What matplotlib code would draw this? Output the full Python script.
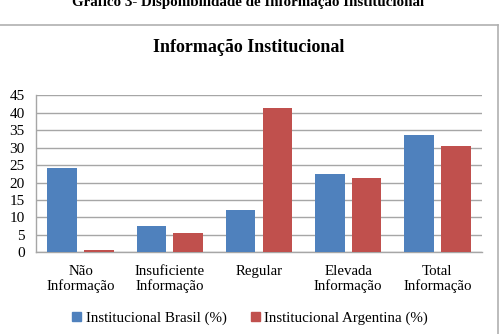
import matplotlib
matplotlib.use("Agg")
import matplotlib.pyplot as plt
import numpy as np
from matplotlib.lines import Line2D
from matplotlib.patches import Patch

categories = ["Não\nInformação", "Insuficiente\nInformação", "Regular",
              "Elevada\nInformação", "Total\nInformação"]
brasil = [24.1, 7.5, 12.0, 22.3, 33.6]
argentina = [0.8, 5.5, 41.4, 21.2, 30.5]
series_names = ["Institucional Brasil (%)", "Institucional Argentina (%)"]
yticks = [0, 5, 10, 15, 20, 25, 30, 35, 40, 45]

BLUE = "#4F81BD"
RED = "#C0504D"
GRID = "#A6A6A6"

plt.rcParams["font.family"] = ["Liberation Serif", "DejaVu Serif"]

fig = plt.figure(figsize=(5.0, 3.34), dpi=100)
ax = fig.add_axes([0.072, 0.2446, 0.892, 0.4701])

x = np.arange(len(categories))
w, off = 0.332, 0.207
ax.bar(x - off, brasil, w, color=BLUE, zorder=3)
ax.bar(x + off, argentina, w, color=RED, zorder=3)

ax.set_xlim(-0.5, len(categories) - 0.5)
ax.set_ylim(0, 45)
ax.set_yticks(yticks)
ax.set_xticks(x)
ax.set_xticklabels(categories, fontsize=10.7, linespacing=1.1)
ax.tick_params(axis="y", length=0, pad=8, labelsize=11)
ax.tick_params(axis="x", length=0, pad=9)
ax.yaxis.grid(True, color=GRID, lw=1.0, zorder=0)
for side in ("top", "right"):
    ax.spines[side].set_visible(False)
for side in ("left", "bottom"):
    ax.spines[side].set_color(GRID)
    ax.spines[side].set_linewidth(1.0)

# chart title inside the frame
fig.text(0.497, 1 - 52.5 / 334, "Informação Institucional", ha="center", va="baseline",
         fontsize=13, fontweight="bold")
# document caption, cut off at the top edge (as in the source page)
fig.text(0.497, 1 - 6 / 334, "Gráfico 3- Disponibilidade de Informação Institucional",
         ha="center", va="baseline", fontsize=10.8, fontweight="bold")

# chart frame (only top and right edges visible)
fig.add_artist(Line2D([0, 0.996], [1 - 24.5 / 334] * 2, transform=fig.transFigure,
                      color="#B0B0B0", lw=1.2))
fig.add_artist(Line2D([0.996, 0.996], [0, 1 - 24.5 / 334], transform=fig.transFigure,
                      color="#B0B0B0", lw=1.2))

handles = [Patch(color=BLUE), Patch(color=RED)]
fig.legend(handles, series_names, loc="center", bbox_to_anchor=(0.5, 1 - 318 / 334),
           ncol=2, frameon=False, fontsize=10.8, handlelength=0.6, handleheight=0.6,
           handletextpad=0.3, columnspacing=1.6)

fig.savefig("out.png", dpi=100)
